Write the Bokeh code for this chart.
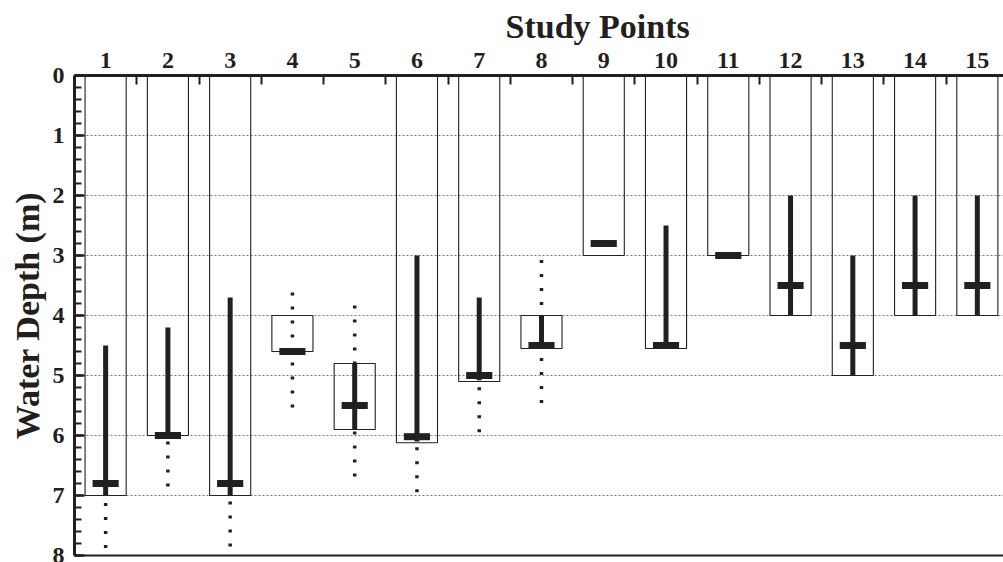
from bokeh.plotting import figure
from bokeh.models import (Range1d, LinearAxis, FixedTicker, SingleIntervalTicker, Title)
from bokeh.embed import file_html
from bokeh.resources import INLINE

# ---------------- data (depths in metres) ----------------
points = list(range(1, 16))
box_top = [0, 0, 0, 4.0, 4.8, 0, 0, 4.0, 0, 0, 0, 0, 0, 0, 0]
box_bottom = [7.0, 6.0, 7.0, 4.6, 5.9, 6.12, 5.1, 4.55, 3.0, 4.55, 3.0, 4.0, 5.0, 4.0, 4.0]
solid_top = [4.5, 4.2, 3.7, None, 4.8, 3.0, 3.7, 4.0, None, 2.5, None, 2.0, 3.0, 2.0, 2.0]
solid_bottom = [7.0, 6.0, 7.0, None, 5.9, 6.1, 5.08, 4.5, None, 4.5, None, 4.0, 5.0, 4.0, 4.0]
mark_depth = [6.8, 6.0, 6.8, 4.6, 5.5, 6.02, 5.0, 4.5, 2.8, 4.5, 3.0, 3.5, 4.5, 3.5, 3.5]
dot_top = [7.125, 6.1, 7.1, 3.615, 3.835, 6.195, 5.195, 3.075, None, None, None, None, None, None, None]
dot_bottom = [7.9, 6.88, 7.87, 5.6, 6.77, 6.97, 5.97, 5.53, None, None, None, None, None, None, None]
tick_labels = [str(i) for i in points]

INK = "#231f20"
FONT = "Liberation Serif"

p = figure(width=1003, height=562, output_backend="svg", toolbar_location=None,
           x_axis_location="above",
           x_range=Range1d(0.5, 15.42), y_range=Range1d(8, 0),
           min_border_left=74, min_border_top=75, min_border_right=0,
           min_border_bottom=7)
p.outline_line_color = None
p.background_fill_color = "white"

# boxes
bw = 0.33
p.quad(left=[x - bw for x in points], right=[x + bw for x in points],
       top=box_top, bottom=box_bottom, fill_color=None,
       line_color="#222222", line_width=1.1)

# dotted ranges
dx = [x for x, t in zip(points, dot_top) if t is not None]
dt = [t for t in dot_top if t is not None]
db = [b for b in dot_bottom if b is not None]
p.segment(x0=dx, y0=dt, x1=dx, y1=db, line_color=INK, line_width=3.5,
          line_dash="3 11", line_cap="butt")

# solid ranges
sx = [x for x, t in zip(points, solid_top) if t is not None]
st = [t for t in solid_top if t is not None]
sb = [b for b in solid_bottom if b is not None]
p.segment(x0=sx, y0=st, x1=sx, y1=sb, line_color=INK, line_width=5,
          line_cap="butt")

# horizontal marks
p.rect(x=points, y=mark_depth, width=0.42, height=7, height_units="screen",
       fill_color=INK, line_color=None)

# ---------------- axes ----------------
top = p.xaxis[0]
top.ticker = FixedTicker(ticks=points, minor_ticks=[x + 0.5 for x in points])
top.major_label_overrides = {i: s for i, s in zip(points, tick_labels)}
top.major_tick_in = 0
top.major_tick_out = 0
top.minor_tick_in = 9
top.minor_tick_out = 0
top.minor_tick_line_width = 2
top.minor_tick_line_color = INK
top.axis_line_width = 3
top.axis_line_color = INK
top.major_label_text_font = FONT
top.major_label_text_font_style = "bold"
top.major_label_text_font_size = "24px"
top.major_label_text_color = INK
top.major_label_standoff = 8

left = p.yaxis[0]
left.ticker = SingleIntervalTicker(interval=1, num_minor_ticks=5)
left.major_tick_in = 10
left.major_tick_out = 0
left.minor_tick_in = 7
left.minor_tick_out = 0
left.major_tick_line_width = 2.5
left.minor_tick_line_width = 2
left.major_tick_line_color = INK
left.minor_tick_line_color = INK
left.axis_line_width = 3
left.axis_line_color = INK
left.major_label_text_font = FONT
left.major_label_text_font_style = "bold"
left.major_label_text_font_size = "24px"
left.major_label_text_color = INK
left.major_label_standoff = 10
left.axis_label = "Water Depth (m)"
left.axis_label_text_font = FONT
left.axis_label_text_font_style = "bold"
left.axis_label_text_font_size = "34px"
left.axis_label_text_color = INK
left.axis_label_standoff = 4

bottom = LinearAxis(ticker=FixedTicker(ticks=[]), major_tick_in=0, major_tick_out=0,
                    minor_tick_in=0, minor_tick_out=0, major_label_standoff=0,
                    major_label_text_font_size="0px", axis_line_width=2,
                    axis_line_color=INK)
p.add_layout(bottom, "below")

p.xgrid.visible = False
p.ygrid.grid_line_color = "#777777"
p.ygrid.grid_line_dash = "2 2"
p.ygrid.grid_line_width = 1

p.add_layout(Title(text="Study Points", align="left", offset=431, standoff=9,
                   text_line_height=0.7,
                   text_font=FONT, text_font_style="bold", text_font_size="34px",
                   text_color=INK), "above")

open("out.html", "w").write(file_html(p, INLINE))
